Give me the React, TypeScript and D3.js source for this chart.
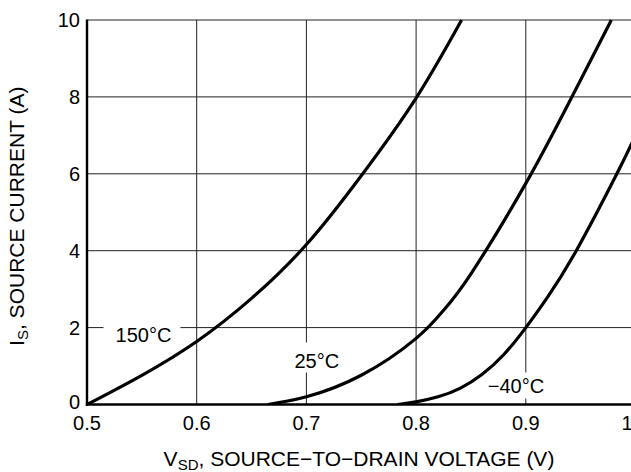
import React from "react";
import { scaleLinear, line, curveNatural } from "d3";

// tick values
const xTicks = [0.5, 0.6, 0.7, 0.8, 0.9, 1.0];
const yTicks = [0, 2, 4, 6, 8, 10];

// curves: V_SD (V) vs I_S (A)
const vsd150 = [0.5, 0.55, 0.6, 0.65, 0.7, 0.75, 0.8, 0.8415];
const is150 = [0, 0.76, 1.64, 2.76, 4.16, 5.95, 7.97, 10];

const vsd25 = [0.665, 0.7, 0.75, 0.8, 0.825, 0.85, 0.9, 0.942, 0.978];
const is25 = [0, 0.2, 0.76, 1.72, 2.45, 3.4, 5.75, 8.0, 10];

const vsdM40 = [0.783, 0.8, 0.82, 0.84, 0.86, 0.88, 0.9, 0.92, 0.946, 0.983, 1.0];
const isM40 = [0, 0.07, 0.2, 0.42, 0.78, 1.3, 2.0, 2.8, 4.0, 6.0, 7.0];

const curves = [
  { name: "150°C", v: vsd150, i: is150 },
  { name: "25°C", v: vsd25, i: is25 },
  { name: "−40°C", v: vsdM40, i: isM40 },
];

const width = 631;
const height = 472;
const font = "'Liberation Sans', Arial, Helvetica, sans-serif";

const margin = { top: 20, left: 87 };
const innerWidth = 548.5; // right edge of the frame falls outside the picture
const innerHeight = 384.5;

export default function App() {
  const x = scaleLinear()
    .domain([0.5, 1.0])
    .range([margin.left, margin.left + innerWidth]);
  const y = scaleLinear()
    .domain([0, 10])
    .range([margin.top + innerHeight, margin.top]);

  const path = line<[number, number]>()
    .x((d) => x(d[0]))
    .y((d) => y(d[1]))
    .curve(curveNatural);

  const x0 = x(0.5);
  const x1 = x(1.0);
  const y0 = y(0);
  const y1 = y(10);

  return (
    <svg
      width={width}
      height={height}
      style={{ position: "absolute", left: 0, top: 0, background: "#fff" }}
      fontFamily={font}
    >
      <defs>
        <clipPath id="plot">
          <rect x={x0} y={y1 - 2} width={x1 - x0} height={y0 - y1 + 2} />
        </clipPath>
      </defs>

      {/* grid */}
      {xTicks.slice(1).map((t) => (
        <line key={"gx" + t} x1={x(t)} x2={x(t)} y1={y1} y2={y0} stroke="#222" strokeWidth={1} />
      ))}
      {yTicks.slice(1).map((t) => (
        <line key={"gy" + t} x1={x0} x2={x1} y1={y(t)} y2={y(t)} stroke="#222" strokeWidth={1} />
      ))}

      {/* white boxes behind the temperature labels */}
      <rect x={x(0.515)} y={y(2) - 6} width={77} height={14} fill="#fff" />
      <rect x={x(0.7) - 16} y={y(0) - 62} width={56} height={30} fill="#fff" />
      <rect x={x(0.9) - 42} y={y(0) - 32} width={64} height={26} fill="#fff" />

      {/* axes */}
      <line x1={x0} x2={x0} y1={y1 - 0.5} y2={y0 + 1.2} stroke="#000" strokeWidth={2.4} />
      <line x1={x0 - 1.2} x2={x1} y1={y0} y2={y0} stroke="#000" strokeWidth={2.4} />

      {/* curves */}
      <g clipPath="url(#plot)">
        {curves.map((c) => (
          <path
            key={c.name}
            d={path(c.v.map((v, k) => [v, c.i[k]] as [number, number])) || ""}
            fill="none"
            stroke="#000"
            strokeWidth={3.2}
          />
        ))}
      </g>

      {/* curve labels */}
      <g fontSize={20} fill="#000">
        <text x={x(0.526)} y={y(2) + 14.5}>{curves[0].name}</text>
        <text x={x(0.7) - 12} y={y(0) - 36.5}>{curves[1].name}</text>
        <text x={x(0.9) - 38} y={y(0) - 11.5}>{curves[2].name}</text>
      </g>

      {/* tick labels */}
      <g fontSize={20} fill="#000">
        {xTicks.map((t) => (
          <text key={"tx" + t} x={x(t)} y={y0 + 25} textAnchor="middle">
            {t.toFixed(1)}
          </text>
        ))}
        {yTicks.map((t) => (
          <text
            key={"ty" + t}
            x={x0 - 7}
            y={y(t) - (t === 0 ? 3 : 0)}
            dy="0.36em"
            textAnchor="end"
          >
            {t}
          </text>
        ))}
      </g>

      {/* axis titles */}
      <text x={359} y={466} textAnchor="middle" fontSize={21} fill="#000">
        V<tspan fontSize={15} dy={4}>SD</tspan>
        <tspan dy={-4}>, SOURCE−TO−DRAIN VOLTAGE (V)</tspan>
      </text>
      <text
        transform={`translate(24,${(y0 + y1) / 2 + 4}) rotate(-90)`}
        textAnchor="middle"
        fontSize={21}
        fill="#000"
      >
        I<tspan fontSize={15} dy={4}>S</tspan>
        <tspan dy={-4}>, SOURCE CURRENT (A)</tspan>
      </text>
    </svg>
  );
}
